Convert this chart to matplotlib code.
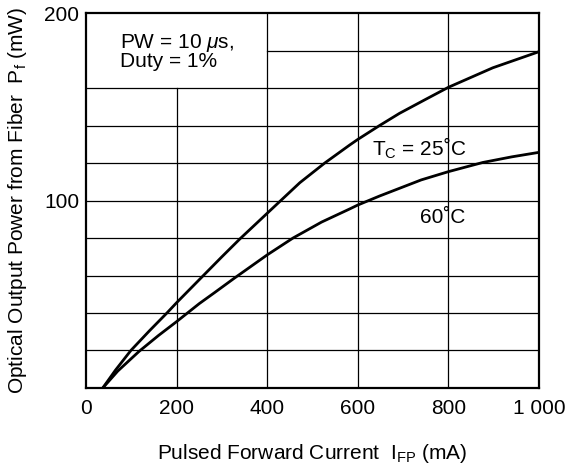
import numpy as np
import matplotlib.pyplot as plt

plt.rcParams['font.family'] = ['Liberation Sans', 'DejaVu Sans']
plt.rcParams['mathtext.fontset'] = 'custom'
plt.rcParams['mathtext.rm'] = 'Liberation Sans'
plt.rcParams['mathtext.it'] = 'Liberation Sans:italic'

# Data (mA, mW)
current_25 = [37, 65, 99, 140, 178.6, 200, 253, 300, 339.6, 400, 427.8, 472,
              527, 582, 600, 648, 692, 750, 800, 898, 1000]
power_25 = [0, 9.5, 20, 30.5, 40, 45.5, 58.5, 70, 79.5, 93.2, 99.5, 109.5,
            120, 129.6, 132.6, 140, 146.5, 154, 160.4, 170.8, 179.4]

current_60 = [37, 70, 117, 160, 200, 250, 284.5, 327, 400, 457, 520, 582,
              600, 648, 740, 800, 876, 940, 1000]
power_60 = [0, 9, 19.5, 28, 35.4, 45, 51, 58.5, 71, 80, 88.5, 95.5,
            97.6, 102.4, 111, 115.4, 120.3, 123.3, 125.7]

x_ticks = [0, 200, 400, 600, 800, 1000]
x_labels = ['0', '200', '400', '600', '800', '1 000']
y_ticks = [100, 200]
y_labels = ['100', '200']

fig = plt.figure(figsize=(5.68, 4.66), dpi=100)
ax = fig.add_axes([0.1514, 0.1674, 0.7976, 0.8046])

# grid, leaving the note box in the top-left corner clear
for xv in [200, 400, 600, 800]:
    top = 160 if xv == 200 else 200
    ax.plot([xv, xv], [0, top], color='black', lw=0.9, zorder=1)
for yv in range(20, 200, 20):
    left = 400 if yv == 180 else 0
    ax.plot([left, 1000], [yv, yv], color='black', lw=0.9, zorder=1)

ax.plot(current_25, power_25, color='black', lw=2, zorder=3)
ax.plot(current_60, power_60, color='black', lw=2, zorder=3)

ax.text(631, 128, r'T$_{\rm C}$ = 25˚C', fontsize=15, va='center')
ax.text(737, 91, '60˚C', fontsize=15, va='center')
ax.text(75, 190, 'PW = 10 $\\mu$s,\nDuty = 1%', fontsize=15, va='top',
        linespacing=0.85)

ax.set_xlim(0, 1000)
ax.set_ylim(0, 200)
ax.set_xticks(x_ticks)
ax.set_xticklabels(x_labels)
ax.set_yticks(y_ticks)
ax.set_yticklabels(y_labels)
ax.tick_params(length=0, labelsize=15)
ax.tick_params(axis='x', pad=8)
ax.tick_params(axis='y', pad=5)
for s in ax.spines.values():
    s.set_linewidth(1.6)

ax.set_xlabel(r'Pulsed Forward Current  I$_{\rm FP}$ (mA)', fontsize=15,
              labelpad=17)
ax.set_ylabel(r'Optical Output Power from Fiber  P$_{\rm f}$ (mW)',
              fontsize=15, labelpad=11)

fig.savefig('out.png', dpi=100)
